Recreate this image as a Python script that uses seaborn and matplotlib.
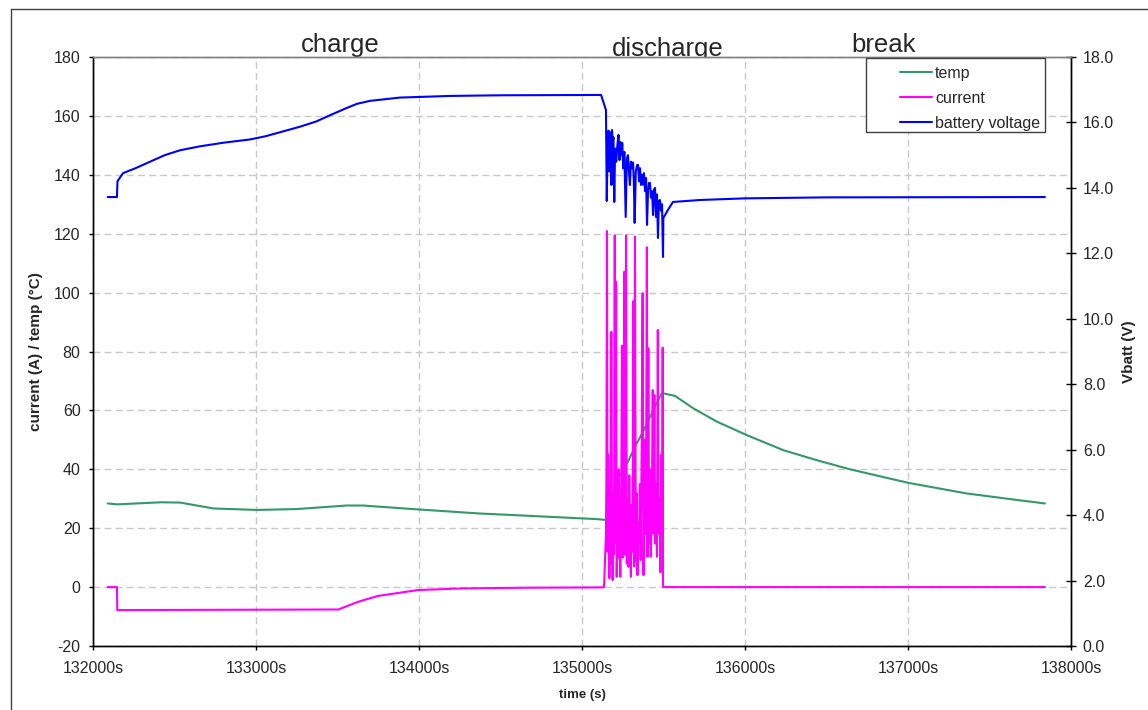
import matplotlib
matplotlib.use("Agg")
import matplotlib.pyplot as plt
import seaborn as sns
import pandas as pd
from matplotlib.lines import Line2D

sns.set_style("white")
plt.rcParams['font.family'] = ['Liberation Sans', 'DejaVu Sans']

# ---- temperature (°C) ----
temp_t = [132090, 132149, 132420, 132534, 132740, 133005, 133250, 133555, 133657,
          133962, 134369, 134676, 135087, 135150, 135190, 135212, 135282, 135325,
          135374, 135447, 135489, 135499, 135571, 135683, 135827, 136011, 136235,
          136440, 136644, 137002, 137360, 137667, 137840]
temp_v = [28.4, 28.1, 28.8, 28.7, 26.7, 26.2, 26.5, 27.7, 27.7,
          26.5, 25.0, 24.2, 23.1, 22.8, 31.3, 35.8, 42.6, 47.7,
          52.7, 61.2, 65.8, 65.8, 64.9, 60.7, 56.2, 51.6, 46.5,
          43.1, 40.0, 35.4, 31.8, 29.6, 28.4]

# ---- current (A) ----
curr_t = [132090, 132147, 132149, 133505, 133626, 133748, 133994, 134264, 134669,
          135121, 135135, 135147, 135150, 135153, 135157, 135161, 135165, 135168,
          135172, 135176, 135180, 135184, 135188, 135192, 135196, 135201, 135205,
          135209, 135213, 135217, 135221, 135226, 135230, 135235, 135240, 135245,
          135250, 135255, 135260, 135265, 135270, 135275, 135280, 135285, 135290,
          135295, 135300, 135305, 135310, 135315, 135320, 135325, 135330, 135335,
          135340, 135345, 135350, 135355, 135360, 135366, 135372, 135377, 135382,
          135387, 135392, 135398, 135402, 135407, 135412, 135417, 135422, 135428,
          135434, 135439, 135444, 135449, 135454, 135460, 135465, 135470, 135476,
          135481, 135487, 135492, 135495, 135497, 135499, 137840]
curr_v = [0.0, 0.0, -7.8, -7.6, -5.0, -3.0, -1.0, -0.45, -0.2,
          -0.1, 0.0, 18.0, 40.0, 120.9, 12.0, 45.0, 25.0, 3.0,
          35.0, 8.0, 86.7, 20.0, 2.4, 30.0, 11.0, 119.5, 15.0,
          103.7, 3.5, 29.6, 10.0, 40.0, 15.0, 3.5, 25.0, 82.0,
          10.0, 37.5, 107.1, 10.9, 119.5, 8.0, 30.0, 6.9, 38.0,
          13.7, 3.5, 28.0, 12.0, 97.1, 7.0, 119.0, 9.0, 32.0,
          4.1, 22.0, 15.0, 35.0, 9.2, 48.0, 99.8, 4.1, 30.0,
          50.0, 18.0, 115.4, 10.3, 81.1, 14.8, 40.0, 10.3, 25.0,
          66.9, 18.2, 65.2, 14.8, 35.0, 10.3, 87.3, 18.2, 30.0,
          5.0, 45.0, 18.2, 81.3, 0.6, 0.0, 0.0]

# ---- battery voltage (V) ----
volt_t = [132090, 132147, 132150, 132184, 132260, 132350, 132440, 132534, 132656,
          132800, 132963, 133060, 133147, 133270, 133370, 133454, 133546, 133620,
          133700, 133883, 134190, 134500, 135117,
          135147, 135152, 135158, 135163, 135168, 135172, 135177, 135181, 135184,
          135189, 135193, 135198, 135203, 135210, 135217, 135224, 135230, 135236,
          135242, 135247, 135253, 135260, 135268, 135275, 135282, 135288, 135294,
          135300, 135307, 135313, 135318, 135323, 135330, 135338, 135344, 135350,
          135356, 135362, 135368, 135374, 135380, 135387, 135393, 135399, 135405,
          135411, 135417, 135423, 135430, 135436, 135442, 135448, 135454, 135460,
          135466, 135472, 135478, 135485, 135491, 135497, 135499, 135530, 135558,
          135724, 136000, 136500, 137840]
volt_v = [13.72, 13.72, 14.20, 14.45, 14.60, 14.80, 15.00, 15.15, 15.27,
          15.38, 15.48, 15.58, 15.70, 15.87, 16.03, 16.22, 16.42, 16.57,
          16.66, 16.76, 16.81, 16.83, 16.84,
          16.38, 13.60, 15.60, 15.75, 14.50, 15.70, 15.20, 14.09, 15.77,
          15.40, 15.55, 13.57, 15.20, 14.80, 15.30, 15.62, 14.85, 15.40,
          15.00, 15.37, 14.60, 15.10, 13.11, 14.90, 15.00, 14.50, 14.09,
          14.80, 14.60, 14.78, 14.20, 12.93, 14.50, 14.70, 14.70, 14.20,
          14.60, 14.09, 14.40, 14.10, 14.45, 13.90, 14.30, 12.87, 13.90,
          14.15, 14.15, 13.70, 13.90, 13.17, 13.95, 14.00, 13.11, 13.80,
          12.47, 13.60, 13.63, 13.30, 13.50, 11.89, 13.08, 13.35, 13.57,
          13.63, 13.68, 13.71, 13.72]

x_ticks = [132000, 133000, 134000, 135000, 136000, 137000, 138000]
left_ticks = [-20, 0, 20, 40, 60, 80, 100, 120, 140, 160, 180]
right_ticks = [0, 2, 4, 6, 8, 10, 12, 14, 16, 18]
phase_labels = ["charge", "discharge", "break"]
series_names = ["temp", "current", "battery voltage"]

W, H = 1148, 710
fig = plt.figure(figsize=(W / 100, H / 100), dpi=100)
ax = fig.add_axes([93 / W, 1 - 646 / H, (1071 - 93) / W, (646 - 57) / H])
ax.set_facecolor("white")
ax2 = ax.twinx()

green, magenta, blue = "#339966", "#FF00FF", "#0000FF"
LW = 1.5
sns.lineplot(x=temp_t, y=temp_v, ax=ax, color=green, lw=LW,
             sort=False, estimator=None, legend=False)
sns.lineplot(x=curr_t, y=curr_v, ax=ax, color=magenta, lw=LW,
             sort=False, estimator=None, legend=False)
sns.lineplot(x=volt_t, y=volt_v, ax=ax2, color=blue, lw=LW,
             sort=False, estimator=None, legend=False)

ax.set_xlim(132000, 138000)
ax.set_ylim(-20, 180)
ax2.set_ylim(0, 18)
ax.set_xticks(x_ticks)
ax.set_xticklabels([f"{t}s" for t in x_ticks])
ax.set_yticks(left_ticks)
ax.set_yticklabels([str(v) for v in left_ticks])
ax2.set_yticks(right_ticks)
ax2.set_yticklabels([f"{v:.1f}" for v in right_ticks])

ax.grid(True, color="#c8c8c8", lw=1.0, linestyle=(0, (5, 3)))
ax.set_axisbelow(True)
ax2.grid(False)

for a in (ax, ax2):
    for side in ("left", "bottom", "right"):
        a.spines[side].set_color("black")
        a.spines[side].set_linewidth(1.0)
    a.spines["top"].set_color("#808080")
    a.spines["top"].set_linewidth(1.0)

ax.tick_params(axis="both", direction="out", length=3, width=1, color="black",
               labelsize=11.5, pad=6, left=True, bottom=True)
ax.tick_params(axis="x", pad=8)
ax2.tick_params(axis="y", direction="inout", length=7, width=1, color="black",
                labelsize=11.5, pad=5, right=True)

ax.set_xlabel("time (s)", fontsize=9.5, fontweight="bold", labelpad=9)
ax.set_ylabel("current (A) / temp (°C)", fontsize=11, fontweight="bold", labelpad=8)
ax2.set_ylabel("Vbatt (V)", fontsize=11, fontweight="bold", labelpad=6)

# phase labels, sitting behind the plot area
for label, xp, yp in zip(phase_labels, [340, 668, 884], [52, 56, 52]):
    fig.text(xp / W, 1 - yp / H, label, ha="center", va="baseline",
             fontsize=18.5, zorder=-1)

# legend with a plain rectangular frame
handles = [Line2D([], [], color=c, lw=LW) for c in (green, magenta, blue)]
fig.add_artist(plt.Rectangle((866 / W, 1 - 132 / H), (1045 - 866) / W, (132 - 58) / H,
                             transform=fig.transFigure, fill=True, facecolor="white",
                             edgecolor="#404040", lw=1.0, zorder=2.5))
leg = fig.legend(handles, series_names,
                 loc="upper left", bbox_to_anchor=(895 / W, 1 - 61 / H),
                 bbox_transform=fig.transFigure, frameon=False, fontsize=11.5,
                 handlelength=2.0, handletextpad=0.2, labelspacing=0.62,
                 borderaxespad=0, borderpad=0.3)
leg.set_zorder(5)

# outer border of the chart sheet
fig.add_artist(Line2D([11 / W, 1], [1 - 9 / H, 1 - 9 / H], color="#404040", lw=1.0,
                      transform=fig.transFigure))
fig.add_artist(Line2D([11 / W, 11 / W], [0, 1 - 9 / H], color="#404040", lw=1.0,
                      transform=fig.transFigure))

fig.savefig("out.png", dpi=100)
